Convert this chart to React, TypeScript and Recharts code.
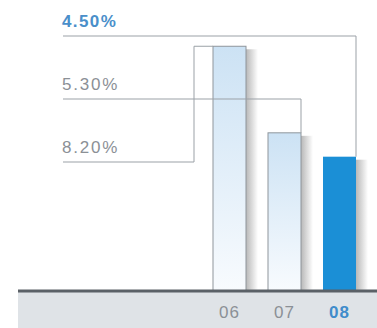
import { BarChart, Bar, XAxis, YAxis, LabelList } from "recharts";

const years = ["06", "07", "08"];
const rates = [8.2, 5.3, 4.5];
const rateLabels = ["8.20%", "5.30%", "4.50%"];

const data = years.map((year, i) => ({ year, rate: rates[i], label: rateLabels[i] }));

// y level of each leader line, label sits just above it
const LEADER_Y = [162, 99, 36];
const LEADER_X0 = 63;
const LINE = "#9ba1a7";
const GREY_TEXT = "#8b9096";
const BLUE = "#1b8fd6";
const FONT = "'Liberation Sans', Arial, sans-serif";

function BarShape(props: any) {
  const { x, y, width, height, index } = props;
  const last = index === years.length - 1;
  return (
    <g>
      <rect x={x + width} y={y + 3} width={12} height={height - 3} fill="url(#shadow)" />
      <rect
        x={x}
        y={y}
        width={width}
        height={height}
        fill={last ? BLUE : "url(#barFill)"}
        stroke={last ? "none" : "#8f959b"}
        strokeWidth={1}
      />
    </g>
  );
}

function Leader(props: any) {
  const { x, y, width, index, value } = props;
  const ly = LEADER_Y[index];
  const first = index === 0;
  const path = first
    ? `M${LEADER_X0},${ly} H${x - 19} V${y} H${x}`
    : `M${LEADER_X0},${ly} H${x + width} V${y}`;
  const last = index === years.length - 1;
  return (
    <g>
      <path d={path} fill="none" stroke={LINE} strokeWidth={1} />
      <text
        x={LEADER_X0 - 1}
        y={ly - 9}
        fill={last ? "#4a8fca" : GREY_TEXT}
        fontFamily={FONT}
        fontSize={17}
        fontWeight={last ? 700 : 400}
        letterSpacing={last ? 1.4 : 1.8}
      >
        {rateLabels[index] ?? value}
      </text>
    </g>
  );
}

function YearTick(props: any) {
  const { x, y, payload, index } = props;
  const last = index === years.length - 1;
  return (
    <text
      x={x}
      y={y + 19}
      textAnchor="middle"
      fill={last ? "#3f8ccb" : GREY_TEXT}
      fontFamily={FONT}
      fontSize={17}
      fontWeight={last ? 700 : 400}
      letterSpacing={1}
    >
      {payload.value}
    </text>
  );
}

export default function App() {
  return (
    <div style={{ position: "absolute", left: 0, top: 0, width: 377, height: 328, background: "#fff" }}>
      <div style={{ position: "absolute", left: 18, top: 291, width: 359, height: 37, background: "#dfe3e7" }} />
      <BarChart
        width={377}
        height={328}
        data={data}
        margin={{ top: 0, right: 0, bottom: 0, left: 18 }}
        style={{ position: "absolute", left: 0, top: 0 }}
      >
        <defs>
          <linearGradient id="barFill" x1="0" y1="0" x2="0" y2="1">
            <stop offset="0%" stopColor="#cce2f4" />
            <stop offset="100%" stopColor="#f8fbfe" />
          </linearGradient>
          <linearGradient id="shadow" x1="0" y1="0" x2="1" y2="0">
            <stop offset="0%" stopColor="#000" stopOpacity={0.28} />
            <stop offset="100%" stopColor="#000" stopOpacity={0} />
          </linearGradient>
        </defs>
        <YAxis hide domain={[0, 9.75]} />
        <XAxis
          dataKey="year"
          padding={{ left: 184, right: 10 }}
          axisLine={{ stroke: "#5b6167", strokeWidth: 3 }}
          tickLine={false}
          tick={<YearTick />}
          height={37}
          interval={0}
        />
        <Bar dataKey="rate" barSize={33} shape={<BarShape />} isAnimationActive={false}>
          <LabelList dataKey="label" content={<Leader />} />
        </Bar>
      </BarChart>
    </div>
  );
}
